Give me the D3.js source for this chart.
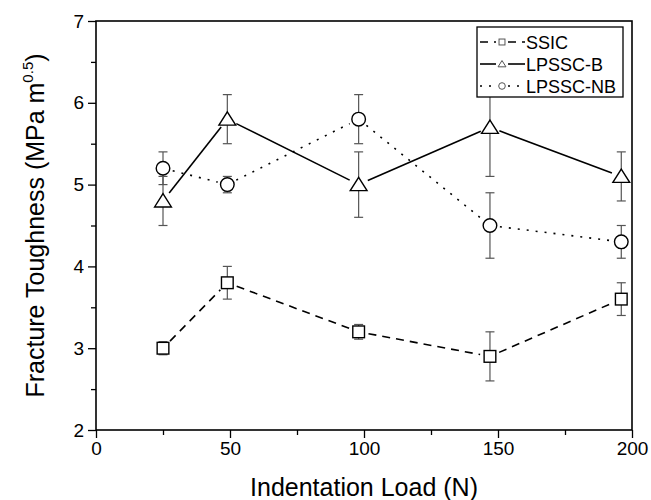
<!DOCTYPE html>
<html>
<head>
<meta charset="utf-8">
<script src="https://cdn.jsdelivr.net/npm/d3@7"></script>
<style>
  body { margin: 0; background: #fff; }
  text { font-family: "Liberation Sans", Arial, sans-serif; fill: #000; }
</style>
</head>
<body>
<div id="chart"></div>
<script>
// data
const loads = [25, 49, 98, 147, 196];
const ssic = [3.0, 3.8, 3.2, 2.9, 3.6];
const ssicErr = [0.08, 0.2, 0.09, 0.3, 0.2];
const lpsscB = [4.8, 5.8, 5.0, 5.7, 5.1];
const lpsscBErr = [0.3, 0.3, 0.4, 0.6, 0.3];
const lpsscNB = [5.2, 5.0, 5.8, 4.5, 4.3];
const lpsscNBErr = [0.2, 0.1, 0.3, 0.4, 0.2];
const seriesNames = ["SSIC", "LPSSC-B", "LPSSC-NB"];
const xTicks = [0, 50, 100, 150, 200];
const yTicks = [2, 3, 4, 5, 6, 7];

const margin = { top: 21, right: 19, bottom: 70, left: 96 },
    width = 651 - margin.left - margin.right,
    height = 500 - margin.top - margin.bottom;

const svg = d3.select("#chart").append("svg")
    .attr("width", 651)
    .attr("height", 500);

const plot = svg.append("g")
    .attr("transform", `translate(${margin.left},${margin.top})`);

const x = d3.scaleLinear().domain([0, 200]).range([0, width]);
const y = d3.scaleLinear().domain([2, 7]).range([height, 0]);

// minor ticks first
plot.append("g")
    .attr("transform", `translate(0,${height})`)
    .call(d3.axisBottom(x).tickValues(d3.range(25, 200, 50)).tickSize(5).tickFormat(""))
    .call(g => g.select(".domain").remove());
plot.append("g")
    .call(d3.axisLeft(y).tickValues(d3.range(2.5, 7, 1)).tickSize(5).tickFormat(""))
    .call(g => g.select(".domain").remove());

const xAxis = plot.append("g")
    .attr("transform", `translate(0,${height})`)
    .call(d3.axisBottom(x).tickValues(xTicks).tickSize(8).tickPadding(4).tickFormat(d3.format("d")));
const yAxis = plot.append("g")
    .call(d3.axisLeft(y).tickValues(yTicks).tickSize(8).tickPadding(4).tickFormat(d3.format("d")));

[xAxis, yAxis].forEach(a => {
    a.selectAll("text").style("font-size", "19px")
        .style("font-family", "'Liberation Sans', Arial, sans-serif")
        .attr("fill", "#000");
    a.select(".domain").remove();
});
plot.selectAll(".tick line").attr("stroke", "#000").attr("stroke-width", 1.3);

// frame
plot.append("rect")
    .attr("width", width)
    .attr("height", height)
    .attr("fill", "none")
    .attr("stroke", "#000")
    .attr("stroke-width", 1.6);

// axis titles
svg.append("text")
    .attr("x", margin.left + width / 2)
    .attr("y", 496)
    .attr("text-anchor", "middle")
    .style("font-size", "25px")
    .text("Indentation Load (N)");

const yTitle = svg.append("text")
    .attr("transform", `translate(44,${margin.top + height / 2}) rotate(-90)`)
    .attr("text-anchor", "middle")
    .style("font-size", "25px");
yTitle.append("tspan").text("Fracture Toughness (MPa m");
yTitle.append("tspan").attr("dy", -11).style("font-size", "15px").text("0.5");
yTitle.append("tspan").attr("dy", 11).text(")");

const series = [
    { name: seriesNames[0], vals: ssic, err: ssicErr, dash: "8,6", shape: "square" },
    { name: seriesNames[1], vals: lpsscB, err: lpsscBErr, dash: null, shape: "triangle" },
    { name: seriesNames[2], vals: lpsscNB, err: lpsscNBErr, dash: "2,7", shape: "circle" }
];

function drawMarker(g, shape, cx, cy, s) {
    if (shape === "square") {
        g.append("rect").attr("x", cx - s * 0.9).attr("y", cy - s * 0.9)
            .attr("width", s * 1.8).attr("height", s * 1.8);
    } else if (shape === "circle") {
        g.append("circle").attr("cx", cx).attr("cy", cy).attr("r", s);
    } else {
        const h = s * 1.9;
        g.append("path").attr("d",
            `M${cx},${cy - h * 0.55} L${cx + s * 1.2},${cy + h * 0.45} L${cx - s * 1.2},${cy + h * 0.45} Z`);
    }
}

// error bars
series.forEach(s => {
    const eb = plot.append("g").attr("stroke", "#555").attr("stroke-width", 1.2);
    loads.forEach((l, i) => {
        const px = x(l), top = y(s.vals[i] + s.err[i]), bot = y(s.vals[i] - s.err[i]);
        eb.append("line").attr("x1", px).attr("x2", px).attr("y1", top).attr("y2", bot);
        eb.append("line").attr("x1", px - 4.5).attr("x2", px + 4.5).attr("y1", top).attr("y2", top);
        eb.append("line").attr("x1", px - 4.5).attr("x2", px + 4.5).attr("y1", bot).attr("y2", bot);
    });
});

// connecting lines, trimmed so they stop short of the markers
const gap = 10;
series.forEach(s => {
    const lg = plot.append("g").attr("stroke", "#000").attr("stroke-width", 1.6)
        .attr("stroke-dasharray", s.dash);
    for (let i = 0; i < loads.length - 1; i++) {
        const x0 = x(loads[i]), y0 = y(s.vals[i]), x1 = x(loads[i + 1]), y1 = y(s.vals[i + 1]);
        const len = Math.hypot(x1 - x0, y1 - y0), ux = (x1 - x0) / len, uy = (y1 - y0) / len;
        lg.append("line")
            .attr("x1", x0 + ux * gap).attr("y1", y0 + uy * gap)
            .attr("x2", x1 - ux * gap).attr("y2", y1 - uy * gap);
    }
});

// markers
series.forEach(s => {
    const mg = plot.append("g").attr("fill", "#fff").attr("stroke", "#000").attr("stroke-width", 1.4);
    loads.forEach((l, i) => {
        const size = s.shape === "circle" ? 6.8 : s.shape === "square" ? 6.5 : 7;
        drawMarker(mg, s.shape, x(l), y(s.vals[i]), size);
    });
});

// legend
const legend = svg.append("g").attr("transform", "translate(477,27)");
legend.append("rect")
    .attr("width", 146).attr("height", 70)
    .attr("fill", "#fff").attr("stroke", "#000").attr("stroke-width", 1.3);
series.forEach((s, i) => {
    const ly = 15 + i * 22;
    const row = legend.append("g");
    row.append("line").attr("x1", 3).attr("x2", 19).attr("y1", ly).attr("y2", ly)
        .attr("stroke", "#000").attr("stroke-width", 1.6).attr("stroke-dasharray", s.dash);
    row.append("line").attr("x1", 31).attr("x2", 48).attr("y1", ly).attr("y2", ly)
        .attr("stroke", "#000").attr("stroke-width", 1.6).attr("stroke-dasharray", s.dash);
    const mk = row.append("g").attr("fill", "#fff").attr("stroke", "#555").attr("stroke-width", 1);
    drawMarker(mk, s.shape, 25, ly, 3.3);
    row.append("text").attr("x", 49).attr("y", ly + 6.5)
        .style("font-size", "18px").text(s.name);
});
</script>
</body>
</html>
